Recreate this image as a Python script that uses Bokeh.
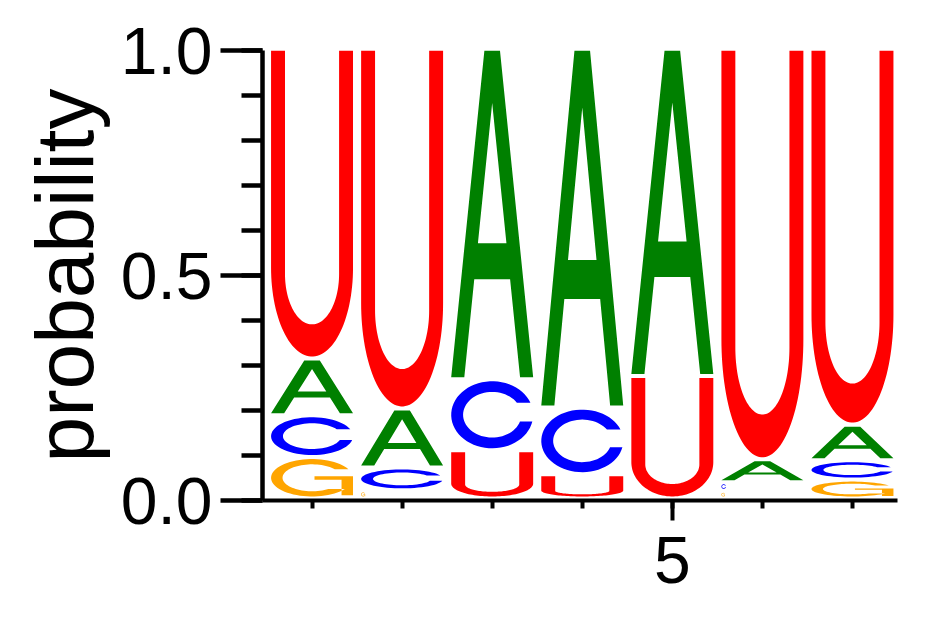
import numpy as np
from bokeh.plotting import figure
from bokeh.models import ColumnDataSource, SingleIntervalTicker, NumeralTickFormatter
from bokeh.embed import file_html
from bokeh.resources import INLINE

# sequence logo data: probability of each base per position
positions = [1, 2, 3, 4, 5, 6, 7]
prob_A = [0.126, 0.131, 0.735, 0.798, 0.728, 0.051, 0.079]
prob_C = [0.093, 0.051, 0.158, 0.148, 0.000, 0.019, 0.043]
prob_G = [0.092, 0.018, 0.000, 0.000, 0.000, 0.017, 0.042]
prob_U = [0.689, 0.800, 0.107, 0.054, 0.272, 0.913, 0.836]

colors = {"A": "#008000", "C": "#0000ff", "G": "#ffa500", "U": "#ff0000"}


def ell(cx, cy, rx, ry, t0, t1, n=60):
    t = np.linspace(t0, t1, n)
    return list(cx + rx * np.cos(t)), list(cy + ry * np.sin(t))


def shape_U():
    s, oc, ic, ir = 0.17, 0.29, 0.27, 0.165
    ox, oy = ell(0.5, oc, 0.5, oc, np.pi, 2 * np.pi)
    ix, iy = ell(0.5, ic, 0.5 - s, ir, 2 * np.pi, np.pi)
    x = [0] + ox + [1, 1 - s] + ix + [s]
    y = [1] + oy + [1, 1] + iy + [1]
    return [[(x, y)]]


def shape_A():
    leg, top, c0, c1 = 0.16, 0.095, 0.30, 0.41
    sl = 0.5 - top
    yap = (1 - 2 * leg) / (2 * sl)
    ox = [0, leg, leg + sl * c0, 1 - leg - sl * c0, 1 - leg, 1, 0.5 + top, 0.5 - top]
    oy = [0, 0, c0, c0, 0, 0, 1, 1]
    hx = [leg + sl * c1, 0.5, 1 - leg - sl * c1]
    hy = [c1, yap, c1]
    return [[(ox, oy), (hx, hy)]]


def ring(yu, yl, rxi, ryi):
    to0 = np.arcsin((yu - 0.5) / 0.5)
    to1 = 2 * np.pi + np.arcsin((yl - 0.5) / 0.5)
    ti0 = np.arcsin((yu - 0.5) / ryi)
    ti1 = 2 * np.pi + np.arcsin((yl - 0.5) / ryi)
    ox, oy = ell(0.5, 0.5, 0.5, 0.5, to0, to1)
    ix, iy = ell(0.5, 0.5, rxi, ryi, ti1, ti0)
    return (ox + ix, oy + iy)


def shape_C():
    return [[ring(0.68, 0.40, 0.355, 0.34)]]


def shape_G():
    bar = ([0.53, 1.0, 1.0, 0.86, 0.86, 0.53], [0.54, 0.54, 0.03, 0.03, 0.45, 0.45])
    return [[ring(0.73, 0.2, 0.36, 0.36)], [bar]]


shapes = {"A": shape_A(), "C": shape_C(), "G": shape_G(), "U": shape_U()}

probs = {"A": prob_A, "C": prob_C, "G": prob_G, "U": prob_U}
half = 0.455
gap = 0.009

xs, ys, cols = [], [], []
for i, pos in enumerate(positions):
    col = sorted([(probs[b][i], b) for b in "GCAU" if probs[b][i] > 0])
    base = 0.0
    for pr, b in col:
        yb, yt = base + gap, base + pr
        h = yt - yb
        w = 2 * half if h >= 0.02 else h * 5
        x0 = pos - half
        gx, gy = [], []
        for poly in shapes[b]:
            px, py = [], []
            for rx, ry in poly:
                px.append([x0 + u * w for u in rx])
                py.append([yb + v * h for v in ry])
            gx.append(px)
            gy.append(py)
        xs.append(gx)
        ys.append(gy)
        cols.append(colors[b])
        base += pr

src = ColumnDataSource(data=dict(xs=xs, ys=ys, color=cols))

p = figure(frame_width=635, frame_height=450, x_range=(0.45, 7.5), y_range=(0, 1),
           output_backend="svg", toolbar_location=None,
           min_border_left=262, min_border_top=50, min_border_bottom=105, min_border_right=20)
p.multi_polygons(xs="xs", ys="ys", fill_color="color", line_color=None, source=src)

p.xgrid.visible = False
p.ygrid.visible = False
p.outline_line_color = None

p.xaxis.ticker = SingleIntervalTicker(interval=5, num_minor_ticks=5)
p.yaxis.ticker = SingleIntervalTicker(interval=0.5, num_minor_ticks=5)
p.yaxis.formatter = NumeralTickFormatter(format="0.0")
p.yaxis.axis_label = "probability"
p.yaxis.axis_label_text_font = "Liberation Sans"
p.yaxis.axis_label_text_font_size = "82px"
p.yaxis.axis_label_text_font_style = "normal"
p.yaxis.axis_label_text_color = "black"
p.yaxis.axis_label_standoff = 8

for ax in (p.xaxis, p.yaxis):
    ax.major_label_text_font = "Liberation Sans"
    ax.major_label_text_font_size = "66px"
    ax.major_label_text_color = "black"
    ax.axis_line_color = "black"
    ax.major_tick_line_color = "black"
    ax.minor_tick_line_color = "black"
    ax.major_tick_in = 0
    ax.minor_tick_in = 0

p.yaxis.axis_line_width = 4.5
p.yaxis.major_tick_line_width = 4.5
p.yaxis.minor_tick_line_width = 4.5
p.yaxis.major_tick_out = 42
p.yaxis.minor_tick_out = 21
p.yaxis.major_label_standoff = 8

p.xaxis.axis_line_width = 4
p.xaxis.major_tick_line_width = 4
p.xaxis.minor_tick_line_width = 4
p.xaxis.major_tick_out = 20
p.xaxis.minor_tick_out = 8
p.xaxis.major_label_standoff = 16

open("out.html", "w").write(file_html(p, INLINE))
